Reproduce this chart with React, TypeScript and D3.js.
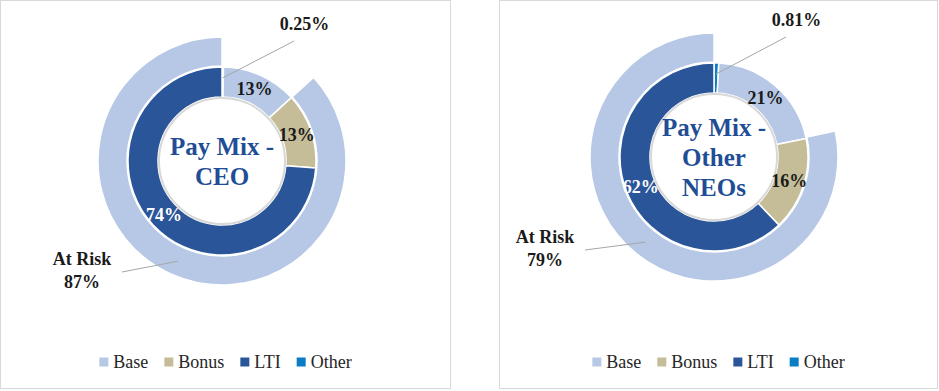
import { useMemo } from 'react';
import * as d3 from 'd3';

// legend / series order
const categories = ['Base', 'Bonus', 'LTI', 'Other'];
const ceoValues = [13, 13, 74, 0.25];
const neoValues = [21, 16, 62, 0.81];
const atRiskValues = [87, 79];
const ceoTitle = ['Pay Mix -', 'CEO'];
const neoTitle = ['Pay Mix -', 'Other', 'NEOs'];
const valueLabels = [
  ['13%', '13%', '74%', '0.25%'],
  ['21%', '16%', '62%', '0.81%'],
];
const atRiskLabels = ['87%', '79%'];

const colors: Record<string, string> = {
  Base: '#B6C8E5',
  Bonus: '#C5BD98',
  LTI: '#2A5699',
  Other: '#0B7DC4',
};
const labelColors: Record<string, string> = {
  Base: '#1a1a1a',
  Bonus: '#1a1a1a',
  LTI: '#ffffff',
  Other: '#1a1a1a',
};

const FONT = '"Liberation Serif", "Times New Roman", serif';
const TITLE_COLOR = '#1F4E96';

const rHole = 64;
const rInner = 94;
const rOuterIn = 95;
const rOuter = 124;

// drawing order around the ring: Other first, then Base, Bonus, LTI
const ringOrder = [3, 0, 1, 2];

interface Panel {
  x: number;
  width: number;
  cx: number;
  cy: number;
  values: number[];
  labels: string[];
  atRisk: number;
  atRiskLabel: string;
  title: string[];
  riskText: [number, number];
}

const panels: Panel[] = [
  {
    x: 0.5, width: 450, cx: 222, cy: 161,
    values: ceoValues, labels: valueLabels[0],
    atRisk: atRiskValues[0], atRiskLabel: atRiskLabels[0],
    title: ceoTitle, riskText: [-140, 98],
  },
  {
    x: 499.5, width: 438, cx: 714, cy: 157,
    values: neoValues, labels: valueLabels[1],
    atRisk: atRiskValues[1], atRiskLabel: atRiskLabels[1],
    title: neoTitle, riskText: [-169, 80],
  },
];

let ctx: CanvasRenderingContext2D | null = null;
function textWidth(t: string, font: string) {
  if (!ctx) ctx = document.createElement('canvas').getContext('2d');
  if (!ctx) return t.length * 9;
  ctx.font = font;
  return ctx.measureText(t).width;
}

const pie = d3.pie<{ key: string; value: number }>()
  .sort(null)
  .value((d) => d.value);

const innerArc = d3.arc<d3.PieArcDatum<{ key: string; value: number }>>()
  .innerRadius(rHole)
  .outerRadius(rInner);
const outerArc = d3.arc<d3.PieArcDatum<{ key: string; value: number }>>()
  .innerRadius(rOuterIn)
  .outerRadius(rOuter);
const labelArc = d3.arc<d3.PieArcDatum<{ key: string; value: number }>>()
  .innerRadius(rHole)
  .outerRadius(rInner);

function Donut({ p }: { p: Panel }) {
  const ring = ringOrder.map((i) => ({ key: categories[i], value: p.values[i] }));
  const slices = pie(ring);

  // outer ring: Other + Base hidden, then the at-risk share
  const outerSlices = pie([
    { key: 'Other', value: p.values[3] },
    { key: 'Base', value: p.values[0] },
    { key: 'AtRisk', value: p.atRisk },
  ]);
  const risk = outerSlices[2];
  const riskPt = outerArc.centroid(risk);

  const other = slices[0];
  const otherPt = labelArc.centroid(other);
  const ang = (31 * Math.PI) / 180;
  const leadStart = [140 * Math.sin(ang), -140 * Math.cos(ang)];
  const otherText = [160 * Math.sin(ang), -160 * Math.cos(ang)];

  const legendFont = `18px ${FONT}`;
  const items = categories.map((c) => ({ c, w: textWidth(c, legendFont) }));
  const total = d3.sum(items, (d) => 9 + 5 + d.w) + 16 * (items.length - 1);
  let lx = p.x + p.width / 2 - total / 2;
  const legend = items.map((d) => {
    const it = { ...d, x: lx };
    lx += 9 + 5 + d.w + 16;
    return it;
  });

  return (
    <g>
      <rect x={p.x} y={0.5} width={p.width} height={388} fill="#fff" stroke="#D9D9D9" strokeWidth={1} />
      <g transform={`translate(${p.cx},${p.cy})`}>
        {outerSlices.map((s, i) => (
          <path key={i} d={outerArc(s) ?? ''}
            fill={s.data.key === 'AtRisk' ? colors.Base : 'none'}
            stroke={s.data.key === 'AtRisk' ? '#fff' : 'none'} strokeWidth={1.5} />
        ))}
        {slices.map((s) => (
          <path key={s.data.key} d={innerArc(s) ?? ''} fill={colors[s.data.key]} stroke="#fff" strokeWidth={1.5} />
        ))}
        <circle r={rHole - 1} fill="#fff" stroke="#D8D8D8" strokeWidth={2} />
        <circle r={rHole - 3} fill="#fff" />

        {slices.filter((s) => s.data.key !== 'Other').map((s) => {
          const [x, y] = labelArc.centroid(s);
          const idx = categories.indexOf(s.data.key);
          return (
            <text key={s.data.key} x={x} y={y} dy="0.35em" textAnchor="middle"
              fontFamily={FONT} fontWeight="bold" fontSize={18} fill={labelColors[s.data.key]}>
              {p.labels[idx]}
            </text>
          );
        })}

        <line x1={leadStart[0]} y1={leadStart[1]} x2={otherPt[0]} y2={otherPt[1] - 4}
          stroke="#A6A6A6" strokeWidth={1} />
        <text x={otherText[0]} y={otherText[1]} dy="0.35em" textAnchor="middle"
          fontFamily={FONT} fontWeight="bold" fontSize={18} fill="#1a1a1a">
          {p.labels[3]}
        </text>

        <line x1={p.riskText[0] + 40} y1={p.riskText[1] + 13} x2={riskPt[0]} y2={riskPt[1]}
          stroke="#A6A6A6" strokeWidth={1} />
        <text x={p.riskText[0]} y={p.riskText[1]} dy="0.35em" textAnchor="middle"
          fontFamily={FONT} fontWeight="bold" fontSize={18} fill="#1a1a1a">
          At Risk
        </text>
        <text x={p.riskText[0]} y={p.riskText[1] + 23} dy="0.35em" textAnchor="middle"
          fontFamily={FONT} fontWeight="bold" fontSize={18} fill="#1a1a1a">
          {p.atRiskLabel}
        </text>

        {p.title.map((t, i) => (
          <text key={i} x={0} y={(i - (p.title.length - 1) / 2) * 30} dy="0.35em" textAnchor="middle"
            fontFamily={FONT} fontWeight="bold" fontSize={25} fill={TITLE_COLOR}>
            {t}
          </text>
        ))}
      </g>

      {legend.map((d) => (
        <g key={d.c}>
          <rect x={d.x} y={357.5} width={9} height={9} fill={colors[d.c]} />
          <text x={d.x + 14} y={362} dy="0.35em" fontFamily={FONT} fontSize={18} fill="#262626">
            {d.c}
          </text>
        </g>
      ))}
    </g>
  );
}

export default function App() {
  const list = useMemo(() => panels, []);
  return (
    <svg width={939} height={391} style={{ position: 'absolute', left: 0, top: 0, background: '#fff' }}>
      {list.map((p, i) => (
        <Donut key={i} p={p} />
      ))}
    </svg>
  );
}
